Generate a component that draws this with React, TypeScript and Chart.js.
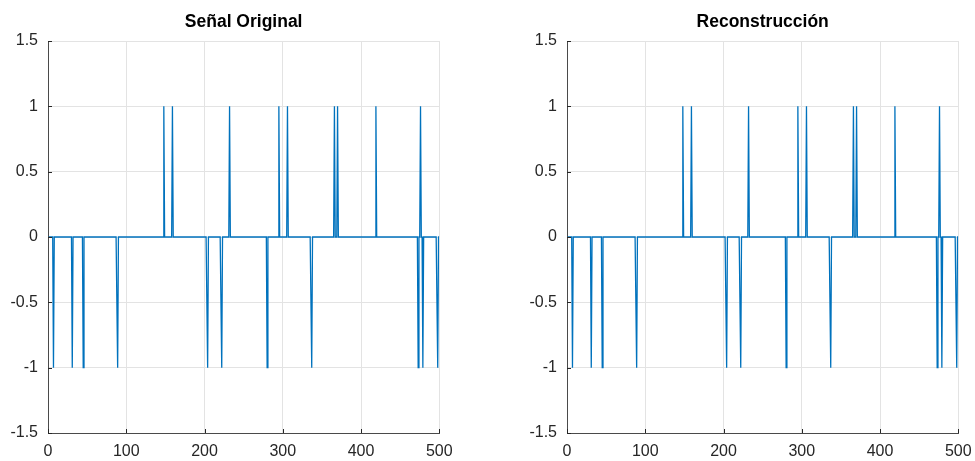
import React, { useEffect, useRef } from "react";
import { Chart, registerables } from "chart.js";

Chart.register(...registerables);

// ---- data ----
const N_SAMPLES = 500;
const ORIG_NEG_SPIKES = [7, 31, 45, 89, 204, 222, 280, 337, 473, 479, 498];
const ORIG_POS_SPIKES = [148, 159, 232, 295, 306, 366, 370, 419, 476];
const REC_NEG_SPIKES = [7, 31, 45, 89, 204, 222, 280, 337, 473, 479, 498];
const REC_POS_SPIKES = [148, 159, 232, 295, 306, 366, 370, 419, 476];
const X_TICKS = [0, 100, 200, 300, 400, 500];
const Y_TICKS = [-1.5, -1, -0.5, 0, 0.5, 1, 1.5];
const TITLE_ORIG = "Señal Original";
const TITLE_REC = "Reconstrucción";

function buildSignal(pos: number[], neg: number[]) {
  const pts: { x: number; y: number }[] = [];
  for (let i = 1; i <= N_SAMPLES; i++) {
    let v = 0;
    if (pos.includes(i)) v = 1;
    else if (neg.includes(i)) v = -1;
    pts.push({ x: i, y: v });
  }
  return pts;
}

const FONT = "'Liberation Sans', Arial, Helvetica, sans-serif";
const TEXT = "#262626";

const innerTicks = {
  id: "innerTicks",
  afterDraw(chart: any) {
    const { ctx, chartArea } = chart;
    const { left, bottom } = chartArea;
    const x = chart.scales.x;
    const y = chart.scales.y;
    ctx.save();
    ctx.strokeStyle = TEXT;
    ctx.lineWidth = 1;
    ctx.beginPath();
    y.ticks.forEach((t: any) => {
      const py = Math.round(y.getPixelForValue(t.value)) + 0.5;
      ctx.moveTo(left, py);
      ctx.lineTo(left + 4, py);
    });
    x.ticks.forEach((t: any) => {
      const px = Math.round(x.getPixelForValue(t.value)) + 0.5;
      ctx.moveTo(px, bottom);
      ctx.lineTo(px, bottom - 4);
    });
    ctx.stroke();
    ctx.restore();
  },
};

const topTitle = {
  id: "topTitle",
  afterDraw(chart: any, _args: any, opts: any) {
    const { ctx, chartArea } = chart;
    ctx.save();
    ctx.fillStyle = "#000";
    ctx.font = `bold 17.5px ${FONT}`;
    ctx.textAlign = "center";
    ctx.textBaseline = "alphabetic";
    ctx.fillText(opts.text, (chartArea.left + chartArea.right) / 2, 27);
    ctx.restore();
  },
};

function Panel(props: {
  left: number;
  title: string;
  pos: number[];
  neg: number[];
}) {
  const ref = useRef<HTMLCanvasElement>(null);
  useEffect(() => {
    if (!ref.current) return;
    const chart = new Chart(ref.current, {
      type: "line",
      data: {
        datasets: [
          {
            data: buildSignal(props.pos, props.neg),
            borderColor: "#0072BD",
            borderWidth: 1.3,
            pointRadius: 0,
            fill: false,
            tension: 0,
          },
        ],
      },
      options: {
        responsive: false,
        animation: false,
        layout: { padding: { left: 0, right: 47.7, top: 41, bottom: 0 } },
        plugins: {
          legend: { display: false },
          tooltip: { enabled: false },
          title: { display: false },
          topTitle: { text: props.title },
        } as any,
        scales: {
          x: {
            type: "linear",
            min: 0,
            max: 500,
            afterBuildTicks: (axis: any) => {
              axis.ticks = X_TICKS.map((v) => ({ value: v }));
            },
            afterFit: (axis: any) => {
              axis.height = 28;
            },
            grid: { color: "#e3e3e3", drawTicks: false, lineWidth: 1 },
            border: { display: true, color: "#4a4a4a", width: 1 },
            ticks: {
              color: TEXT,
              font: { family: FONT, size: 16 },
              padding: 9,
              maxRotation: 0,
              callback: (v: any) => String(v),
            },
          },
          y: {
            type: "linear",
            min: -1.5,
            max: 1.5,
            afterBuildTicks: (axis: any) => {
              axis.ticks = Y_TICKS.map((v) => ({ value: v }));
            },
            afterFit: (axis: any) => {
              axis.width = 48;
            },
            grid: { color: "#e3e3e3", drawTicks: false, lineWidth: 1 },
            border: { display: true, color: "#4a4a4a", width: 1 },
            ticks: {
              color: TEXT,
              font: { family: FONT, size: 16 },
              padding: 10,
              callback: (v: any) => String(v),
            },
          },
        },
      },
      plugins: [innerTicks, topTitle],
    });
    return () => chart.destroy();
  }, []);
  return (
    <canvas
      ref={ref}
      width={487}
      height={461}
      style={{ position: "absolute", left: props.left, top: 0, width: 487, height: 461 }}
    />
  );
}

export default function App() {
  return (
    <div
      style={{
        position: "fixed",
        left: 0,
        top: 0,
        width: 975,
        height: 461,
        overflow: "hidden",
        background: "#fff",
      }}
    >
      <Panel left={0} title={TITLE_ORIG} pos={ORIG_POS_SPIKES} neg={ORIG_NEG_SPIKES} />
      <Panel left={519} title={TITLE_REC} pos={REC_POS_SPIKES} neg={REC_NEG_SPIKES} />
    </div>
  );
}
